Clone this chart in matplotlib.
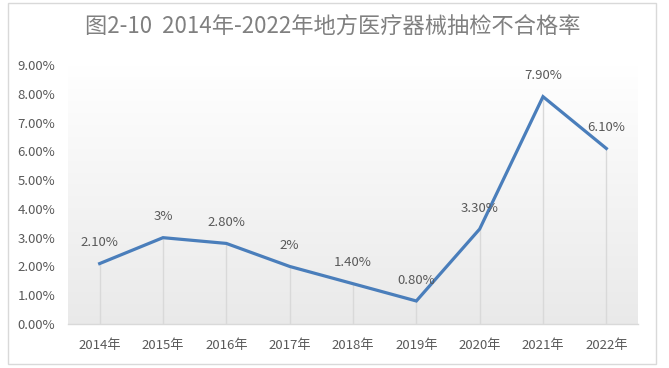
import matplotlib
matplotlib.use("Agg")
import matplotlib.pyplot as plt
import numpy as np
from matplotlib.patches import Rectangle

plt.rcParams['font.family'] = ['Noto Sans CJK SC', 'DejaVu Sans']

years = ["2014年", "2015年", "2016年", "2017年", "2018年", "2019年", "2020年", "2021年", "2022年"]
rates = [2.10, 3.0, 2.80, 2.0, 1.40, 0.80, 3.30, 7.90, 6.10]
labels = ["2.10%", "3%", "2.80%", "2%", "1.40%", "0.80%", "3.30%", "7.90%", "6.10%"]
yticks = [0, 1, 2, 3, 4, 5, 6, 7, 8, 9]
title = "图2-10  2014年-2022年地方医疗器械抽检不合格率"

fig = plt.figure(figsize=(6.69, 3.68), dpi=100)
fig.patch.set_facecolor("white")
fig.add_artist(Rectangle((8/669, 4/368), 648/669, 361/368, transform=fig.transFigure,
                         fill=False, edgecolor="#d9d9d9", linewidth=1))

ax = fig.add_axes([68/669, 44/368, 570/669, 259/368])
x = np.arange(len(years))
ax.set_xlim(-0.5, len(years) - 0.5)
ax.set_ylim(0, 9)

# gradient background
grad = np.linspace(0, 1, 256).reshape(-1, 1)
top = np.array([1.0, 1.0, 1.0])
bot = np.array([0.915, 0.915, 0.915])
img = top * (1 - grad[..., None]) + bot * grad[..., None]
img = img[:, 0, :][:, None, :]
ax.imshow(img, extent=[-0.5, len(years) - 0.5, 0, 9], origin="upper", aspect="auto", zorder=0)

ax.vlines(x, 0, rates, color="#d9d9d9", linewidth=1, zorder=1)
ax.plot(x, rates, color="#4a7ebb", linewidth=2.3, zorder=3, solid_joinstyle="miter")

for xi, v, lab in zip(x, rates, labels):
    ax.annotate(lab, (xi, v), xytext=(0, 15), textcoords="offset points",
                ha="center", va="center", fontsize=9.5, color="#595959", zorder=4)

for s in ["top", "right", "left"]:
    ax.spines[s].set_visible(False)
ax.spines["bottom"].set_color("#d9d9d9")
ax.spines["bottom"].set_linewidth(1)

ax.set_yticks(yticks)
ax.set_yticklabels([f"{t:.2f}%" for t in yticks])
ax.set_xticks(x)
ax.set_xticklabels(years)
ax.tick_params(axis="both", length=0, labelsize=9.5, labelcolor="#595959")
ax.tick_params(axis="y", pad=9)
ax.tick_params(axis="x", pad=11)

fig.text(333/669, (368-27)/368, title, ha="center", va="center", fontsize=16, color="#808080")

fig.savefig("out.png", dpi=100)
